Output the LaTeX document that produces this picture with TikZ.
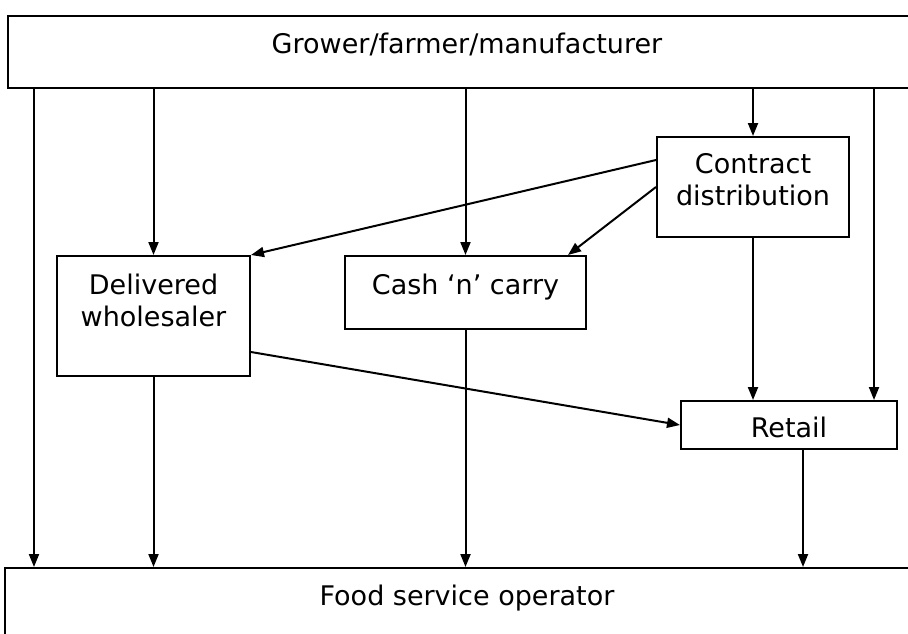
\documentclass[tikz,border=0pt]{standalone}
\usepackage{fontspec}
\setmainfont{DejaVu Sans}
\usetikzlibrary{arrows.meta,positioning,calc}

\begin{document}
\begin{tikzpicture}[x=0.5pt,y=-0.5pt,
	box/.style={draw,rectangle,line width=1pt,inner sep=0pt},
	boxtext/.style={inner sep=0pt,align=center,font=\fontsize{13.5pt}{16pt}\selectfont},
	arr/.style={line width=1pt,-{Triangle[length=6.5pt,width=5pt]}}]
					\useasboundingbox (0,0) rectangle (908,633);
					\clip (0,0) rectangle (908,633);
					\node[box,minimum width=459pt,minimum height=36pt] (grower) at (467,52) {};
					\node[box,minimum width=96pt,minimum height=50pt] (contract) at (753,187) {};
					\node[box,minimum width=96.5pt,minimum height=60pt] (whole) at (153.5,316) {};
					\node[box,minimum width=120.5pt,minimum height=36.5pt] (cash) at (465.5,292.5) {};
					\node[box,minimum width=108pt,minimum height=24pt] (retail) at (789,425) {};
					\node[box,minimum width=462pt,minimum height=41pt] (food) at (467,609) {};
										\node[boxtext,below=9pt of grower.north] (growertext) {Grower/farmer/manufacturer};
					\node[boxtext,below=8.5pt of contract.north] (contracttext) {Contract\\distribution};
					\node[boxtext,below=9.5pt of whole.north] (wholetext) {Delivered\\wholesaler};
					\node[boxtext,below=9.5pt of cash.north] (cashtext) {Cash `n' carry};
					\node[boxtext,below=8.5pt of retail.north] (retailtext) {Retail};
					\node[boxtext,below=9pt of food.north] (foodtext) {Food service operator};
					\coordinate (left) at (34,0);
					\coordinate (right) at (874,0);
					\coordinate (out) at (803,0);
										\draw[arr] (grower.south -| left) -- (food.north -| left);
					\draw[arr] (grower.south -| whole.north) -- (whole.north);
					\draw[arr] (grower.south -| cash.north) -- (cash.north);
					\draw[arr] (grower.south -| contract.north) -- (contract.north);
					\draw[arr] (grower.south -| right) -- (retail.north -| right);
										\draw[arr] ([yshift=13.5pt]contract.west) -- (whole.north east);
					\draw[arr] (contract.west) -- ([xshift=-9.5pt]cash.north east);
					\draw[arr] (contract.south) -- (retail.north -| contract.south);
					\draw[arr] ([yshift=-18pt]whole.east) -- (retail.west);
										\draw[arr] (whole.south) -- (food.north -| whole.south);
					\draw[arr] (cash.south) -- (food.north -| cash.south);
					\draw[arr] (retail.south -| out) -- (food.north -| out);
				\end{tikzpicture}
\end{document}
